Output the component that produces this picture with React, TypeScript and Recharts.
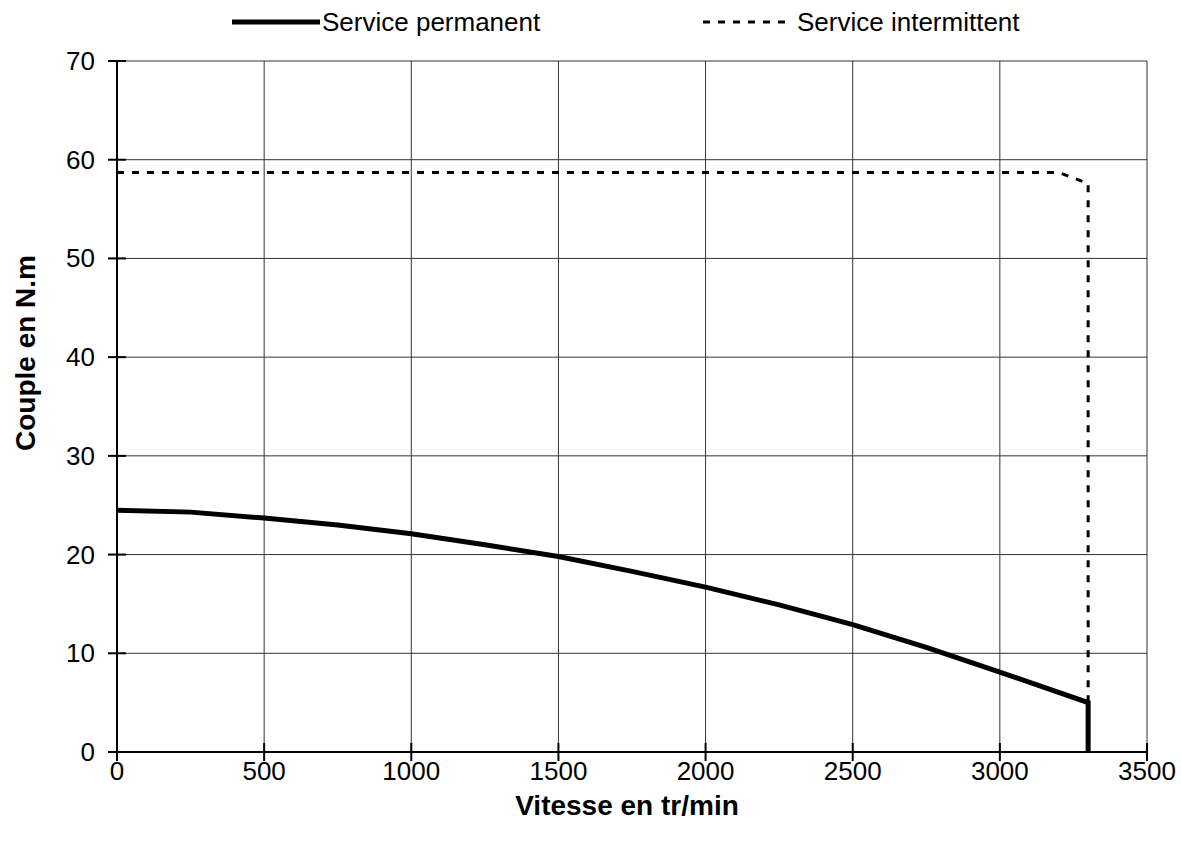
import React from 'react';
import { LineChart, Line, XAxis, YAxis, CartesianGrid, Label } from 'recharts';

// Service permanent (solid)
const permanentSpeed = [0, 250, 500, 750, 1000, 1250, 1500, 1750, 2000, 2250, 2500, 2750, 3000, 3300, 3300];
const permanentTorque = [24.5, 24.3, 23.7, 23.0, 22.1, 21.0, 19.8, 18.3, 16.7, 14.9, 12.9, 10.6, 8.1, 5.0, 0];

// Service intermittent (dashed)
const intermittentSpeed = [0, 3200, 3300, 3300];
const intermittentTorque = [58.7, 58.7, 57.6, 0];

const xTicks = [0, 500, 1000, 1500, 2000, 2500, 3000, 3500];
const yTicks = [0, 10, 20, 30, 40, 50, 60, 70];

const permanentData = permanentSpeed.map((x, i) => ({ x, y: permanentTorque[i] }));
const intermittentData = intermittentSpeed.map((x, i) => ({ x, y: intermittentTorque[i] }));

const FONT = '"Liberation Sans", Arial, sans-serif';
const DASH = '7 8';

const series = [
  { name: 'Service permanent', data: permanentData, dash: undefined as string | undefined, width: 5, lx1: 232, lx2: 320, tx: 322 },
  { name: 'Service intermittent', data: intermittentData, dash: DASH, width: 3, lx1: 703, lx2: 790, tx: 797 },
];

// text x = axis - 22 (tickSize 9 + tickMargin 13)
const YTick = (props: any) => {
  const { x, y, payload } = props;
  const ax = x + 22;
  return (
    <g>
      <path d={`M${ax - 9} ${y}H${ax + 9}`} stroke="#000" strokeWidth={2} fill="none" />
      <text x={x} y={y} dy={9} textAnchor="end" fontSize={26} fontFamily={FONT} fill="#000">
        {payload.value}
      </text>
    </g>
  );
};

// text y = axis + 9 (tickSize 9 + tickMargin 0)
const XTick = (props: any) => {
  const { x, y, payload } = props;
  const ay = y - 9;
  return (
    <g>
      <path d={`M${x} ${ay + 9}V${ay - 9}`} stroke="#000" strokeWidth={2} fill="none" />
      <text x={x} y={y} dy={19} textAnchor="middle" fontSize={26} fontFamily={FONT} fill="#000">
        {payload.value}
      </text>
    </g>
  );
};

export default function App() {
  return (
    <div style={{ position: 'absolute', left: 0, top: 0, width: 1181, height: 845, background: '#fff' }}>
      <svg width={1181} height={50} style={{ position: 'absolute', left: 0, top: 0 }}>
        {series.map((s) => (
          <g key={s.name}>
            <line x1={s.lx1} x2={s.lx2} y1={22} y2={22} stroke="#000" strokeWidth={s.width} strokeDasharray={s.dash} />
            <text x={s.tx} y={31} fontSize={26} fontFamily={FONT} fill="#000">
              {s.name}
            </text>
          </g>
        ))}
      </svg>
      <LineChart width={1181} height={845} margin={{ top: 61, right: 34, left: 0, bottom: 0 }}>
        <CartesianGrid stroke="#333" strokeWidth={1} />
        <XAxis
          type="number"
          dataKey="x"
          domain={[0, 3500]}
          ticks={xTicks}
          interval={0}
          height={93}
          tickLine={false}
          tickSize={9}
          tickMargin={0}
          tick={<XTick />}
          axisLine={{ stroke: '#000', strokeWidth: 2 }}
          allowDataOverflow
        >
          <Label
            content={() => (
              <text x={627} y={815} textAnchor="middle" fontSize={28} fontWeight="bold" fontFamily={FONT} fill="#000">
                Vitesse en tr/min
              </text>
            )}
          />
        </XAxis>
        <YAxis
          type="number"
          dataKey="y"
          domain={[0, 70]}
          ticks={yTicks}
          interval={0}
          width={117}
          tickLine={false}
          tickSize={9}
          tickMargin={13}
          tick={<YTick />}
          axisLine={{ stroke: '#000', strokeWidth: 2 }}
          allowDataOverflow
        >
          <Label
            content={() => (
              <text x={35} y={353} transform="rotate(-90 35 353)" textAnchor="middle" fontSize={28} fontWeight="bold" fontFamily={FONT} fill="#000">
                Couple en N.m
              </text>
            )}
          />
        </YAxis>
        {series.map((s) => (
          <Line
            key={s.name}
            data={s.data}
            dataKey="y"
            name={s.name}
            type="linear"
            stroke="#000"
            strokeWidth={s.width}
            strokeDasharray={s.dash}
            dot={false}
            activeDot={false}
            isAnimationActive={false}
          />
        ))}
      </LineChart>
    </div>
  );
}
